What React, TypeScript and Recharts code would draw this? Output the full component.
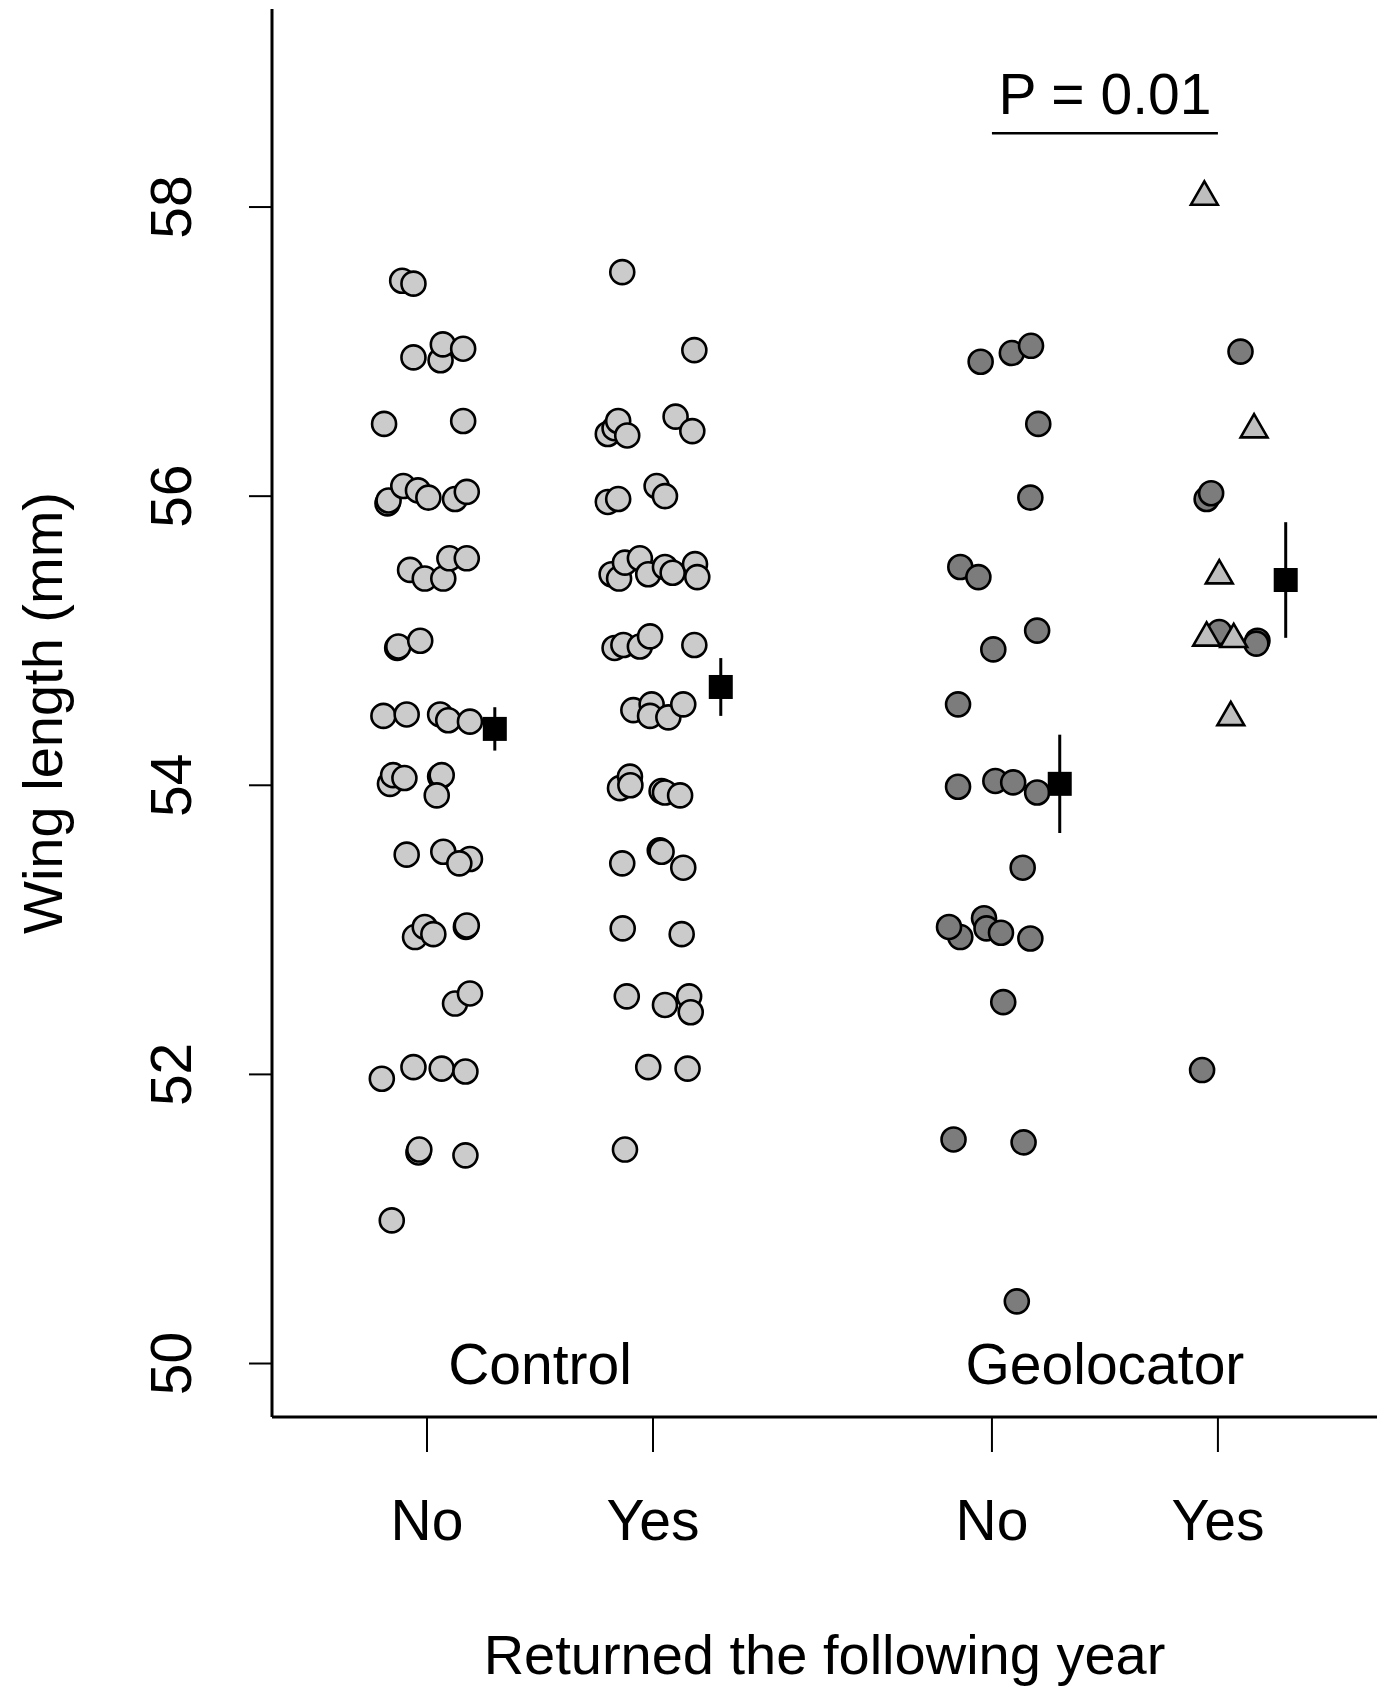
import React from 'react';
import { ScatterChart, Scatter, XAxis, YAxis, ErrorBar, ReferenceLine, ReferenceDot } from 'recharts';

const FONT = '"Liberation Sans", Arial, Helvetica, sans-serif';

// jittered x position, wing length (mm)
const controlNo: [number, number][] = [
  [0.89, 57.49], [0.94, 57.47],
  [0.94, 56.96], [1.06, 56.94], [1.07, 57.05], [1.16, 57.02],
  [0.81, 56.5], [1.16, 56.52],
  [0.825, 55.95], [0.83, 55.97], [0.895, 56.07], [0.96, 56.04], [1.006, 55.99], [1.124, 55.98], [1.176, 56.03],
  [0.925, 55.49], [0.99, 55.43], [1.072, 55.43], [1.099, 55.57], [1.176, 55.57],
  [0.868, 54.95], [0.873, 54.96], [0.97, 55.0],
  [0.807, 54.48], [0.91, 54.49], [1.058, 54.49], [1.094, 54.45], [1.19, 54.44],
  [0.836, 54.01], [0.85, 54.07], [0.9, 54.05], [1.058, 54.06], [1.065, 54.07], [1.043, 53.93],
  [0.91, 53.52], [1.072, 53.54], [1.19, 53.49], [1.143, 53.46],
  [0.947, 52.95], [0.99, 53.02], [1.028, 52.97], [1.172, 53.02], [1.176, 53.03],
  [1.124, 52.49], [1.19, 52.56],
  [0.8, 51.97], [0.94, 52.05], [1.065, 52.04], [1.17, 52.02],
  [0.962, 51.46], [0.966, 51.48], [1.17, 51.44],
  [0.844, 50.99],
];

const controlYes: [number, number][] = [
  [1.864, 57.55], [2.183, 57.01],
  [1.8, 56.43], [1.83, 56.47], [1.846, 56.52], [1.886, 56.42], [2.1, 56.55], [2.174, 56.45],
  [1.8, 55.96], [1.846, 55.98], [2.016, 56.07], [2.053, 56.0],
  [1.817, 55.46], [1.85, 55.43], [1.876, 55.54], [1.942, 55.57], [1.979, 55.46], [2.053, 55.51], [2.087, 55.47], [2.186, 55.53], [2.196, 55.44],
  [1.83, 54.95], [1.869, 54.97], [1.942, 54.96], [1.987, 55.03], [2.183, 54.97],
  [1.913, 54.52], [1.994, 54.56], [1.987, 54.48], [2.068, 54.47], [2.134, 54.56],
  [1.854, 53.98], [1.898, 54.06], [1.9, 54.0], [2.038, 53.96], [2.053, 53.95], [2.12, 53.93],
  [1.864, 53.46], [2.03, 53.55], [2.038, 53.54], [2.134, 53.43],
  [1.866, 53.01], [2.127, 52.97],
  [1.884, 52.54], [2.053, 52.48], [2.16, 52.54], [2.167, 52.43],
  [1.979, 52.05], [2.153, 52.04],
  [1.876, 51.48],
];

const geoNo: [number, number][] = [
  [3.45, 56.93], [3.588, 56.99], [3.673, 57.04],
  [3.705, 56.5],
  [3.67, 55.99],
  [3.36, 55.51], [3.44, 55.44],
  [3.7, 55.07], [3.506, 54.94],
  [3.35, 54.56],
  [3.35, 53.99], [3.515, 54.03], [3.594, 54.02], [3.7, 53.95],
  [3.636, 53.43],
  [3.36, 52.95], [3.31, 53.02], [3.465, 53.08], [3.476, 53.01], [3.54, 52.98], [3.67, 52.94],
  [3.55, 52.5],
  [3.33, 51.55], [3.64, 51.53],
  [3.61, 50.43],
];

const geoYesCircles: [number, number][] = [
  [4.6, 57.0], [4.45, 55.98], [4.47, 56.02], [4.506, 55.06], [4.675, 55.0], [4.67, 54.98], [4.43, 52.03],
];

const geoYesTriangles: [number, number][] = [
  [4.44, 58.07], [4.66, 56.46], [4.506, 55.45], [4.45, 55.02], [4.57, 55.01], [4.557, 54.47],
];

const meanX = [1.3, 2.3, 3.8, 4.8];
const meanY = [54.39, 54.68, 54.01, 55.42];
const meanErr = [0.15, 0.2, 0.34, 0.4];

const catTicks = [1, 2, 3.5, 4.5];
const catLabels = ['No', 'Yes', 'No', 'Yes'];
const yTicks = [50, 52, 54, 56, 58];
const groupNames = ['Control', 'Geolocator'];
const groupX = [1.5, 4.0];
const pLabel = 'P = 0.01';
const pBar = { from: 3.5, to: 4.5, y: 58.51 };

const toPts = (arr: [number, number][]) => arr.map(([x, y]) => ({ x, y }));
const means = meanX.map((x, i) => ({ x, y: meanY[i], err: meanErr[i] }));

const LIGHT = '#cbcbcb';
const DARK = '#7c7c7c';
const TRI = '#bebebe';
const FS = 57;

const circleShape = (fill: string) => (p: any) => (
  <circle cx={p.cx} cy={p.cy} r={12} fill={fill} stroke="#000" strokeWidth={2.6} />
);

const triShape = (p: any) => {
  const r = 15.5;
  const h = r * 0.866;
  const pts = `${p.cx},${p.cy - r} ${p.cx + h},${p.cy + r / 2} ${p.cx - h},${p.cy + r / 2}`;
  return <polygon points={pts} fill={TRI} stroke="#000" strokeWidth={2.6} strokeLinejoin="miter" />;
};

const squareShape = (p: any) => (
  <rect x={p.cx - 12} y={p.cy - 12} width={24} height={24} fill="#000" />
);

const XTick = (p: any) => {
  const i = catTicks.indexOf(p.payload.value);
  return (
    <text x={p.x} y={p.y + 86} textAnchor="middle" fontSize={FS} fontFamily={FONT} fill="#000">
      {catLabels[i]}
    </text>
  );
};

const YTick = (p: any) => {
  const x = p.x - 56;
  return (
    <text x={x} y={p.y} transform={`rotate(-90, ${x}, ${p.y})`} textAnchor="middle" fontSize={FS} fontFamily={FONT} fill="#000">
      {p.payload.value}
    </text>
  );
};

export default function App() {
  return (
    <div style={{ position: 'absolute', left: 0, top: 0, width: 1383, height: 1686, background: '#fff' }}>
      <ScatterChart width={1383} height={1686} margin={{ top: 9, right: 6, bottom: 0, left: 0 }}>
        <XAxis
          type="number"
          dataKey="x"
          domain={[0.314, 5.204]}
          ticks={catTicks}
          allowDataOverflow
          height={269}
          tickSize={35}
          axisLine={{ stroke: '#000', strokeWidth: 3 }}
          tickLine={{ stroke: '#000', strokeWidth: 2 }}
          tick={<XTick />}
          label={{
            content: (lp: any) => (
              <text x={lp.viewBox.x + lp.viewBox.width / 2} y={1674} textAnchor="middle" fontSize={56} fontFamily={FONT} fill="#000">
                Returned the following year
              </text>
            ),
          }}
        />
        <YAxis
          type="number"
          dataKey="y"
          domain={[49.63, 59.37]}
          ticks={yTicks}
          allowDataOverflow
          width={272}
          tickSize={23}
          axisLine={{ stroke: '#000', strokeWidth: 3 }}
          tickLine={{ stroke: '#000', strokeWidth: 2 }}
          tick={<YTick />}
          label={{
            content: (lp: any) => {
              const cy = lp.viewBox.y + lp.viewBox.height / 2;
              return (
                <text x={62} y={cy} transform={`rotate(-90, 62, ${cy})`} textAnchor="middle" fontSize={56} fontFamily={FONT} fill="#000">
                  Wing length (mm)
                </text>
              );
            },
          }}
        />
        <Scatter data={toPts(controlNo)} shape={circleShape(LIGHT)} isAnimationActive={false} />
        <Scatter data={toPts(controlYes)} shape={circleShape(LIGHT)} isAnimationActive={false} />
        <Scatter data={toPts(geoNo)} shape={circleShape(DARK)} isAnimationActive={false} />
        <Scatter data={toPts(geoYesCircles)} shape={circleShape(DARK)} isAnimationActive={false} />
        <Scatter data={toPts(geoYesTriangles)} shape={triShape} isAnimationActive={false} />
        <Scatter data={means} shape={squareShape} isAnimationActive={false}>
          <ErrorBar dataKey="err" direction="y" width={0} stroke="#000" strokeWidth={3} isAnimationActive={false} />
        </Scatter>
        <ReferenceLine
          segment={[{ x: pBar.from, y: pBar.y }, { x: pBar.to, y: pBar.y }]}
          stroke="#000"
          strokeWidth={2.5}
          ifOverflow="visible"
          label={{ value: pLabel, position: 'top', offset: 19, fontSize: FS, fontFamily: FONT, fill: '#000' }}
        />
        {groupNames.map((g, i) => (
          <ReferenceDot
            key={g}
            x={groupX[i]}
            y={50}
            r={0}
            fill="none"
            stroke="none"
            label={{ value: g, position: 'center', fontSize: FS, fontFamily: FONT, fill: '#000' }}
          />
        ))}
      </ScatterChart>
    </div>
  );
}
